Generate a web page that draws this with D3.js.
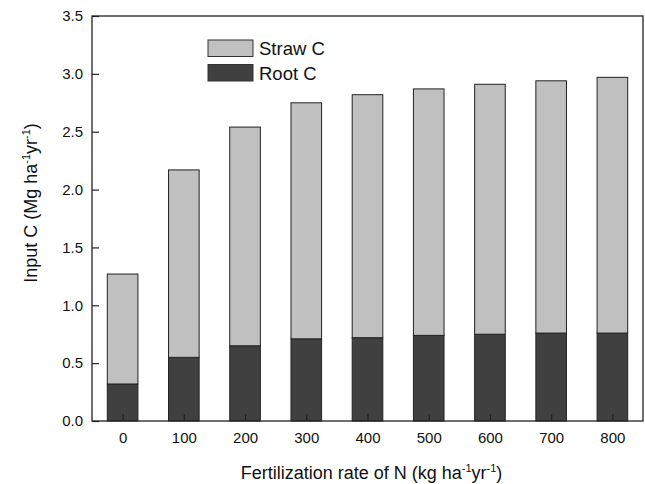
<!DOCTYPE html>
<html>
<head>
<meta charset="utf-8">
<script src="https://cdn.jsdelivr.net/npm/d3@7"></script>
<style>
  body { margin: 0; background: #fff; }
  text { font-family: "Liberation Sans", Arial, sans-serif; fill: #111; }
</style>
</head>
<body>
<svg width="645" height="484"></svg>
<script>
// N rates (kg/ha/yr) and carbon inputs (Mg/ha/yr)
const rates = [0, 100, 200, 300, 400, 500, 600, 700, 800];
const rootC = [0.32, 0.55, 0.65, 0.71, 0.72, 0.74, 0.75, 0.76, 0.76];
const strawC = [0.95, 1.62, 1.89, 2.04, 2.10, 2.13, 2.16, 2.18, 2.21];
const yTicks = [0, 0.5, 1.0, 1.5, 2.0, 2.5, 3.0, 3.5];

const svg = d3.select('svg');
const margin = { left: 92, right: 2, top: 16, bottom: 63 };
const width = 645 - margin.left - margin.right;
const height = 484 - margin.top - margin.bottom;

const g = svg.append('g').attr('transform', `translate(${margin.left},${margin.top})`);

const xScale = d3.scaleLinear().domain([-50, 850]).range([0, width]);
const yScale = d3.scaleLinear().domain([0, 3.5]).range([height, 0]);
const barW = xScale(50) - xScale(0);

const rows = rates.map((r, i) => ({ rate: r, root: rootC[i], straw: strawC[i] }));
const stacked = d3.stack().keys(['root', 'straw'])(rows);
const fills = { root: '#404040', straw: '#c0c0c0' };

g.selectAll('g.layer')
  .data(stacked)
  .join('g')
  .attr('class', 'layer')
  .attr('fill', (d) => fills[d.key])
  .selectAll('rect')
  .data((d) => d)
  .join('rect')
  .attr('x', (d) => xScale(d.data.rate) - barW / 2)
  .attr('width', barW)
  .attr('y', (d) => yScale(d[1]))
  .attr('height', (d) => yScale(d[0]) - yScale(d[1]))
  .attr('stroke', '#222')
  .attr('stroke-width', 1);

// axes, ticks pointing inward
const xAxis = g.append('g')
  .attr('transform', `translate(0,${height})`)
  .call(d3.axisBottom(xScale).tickValues(rates).tickSize(-7).tickPadding(11).tickFormat(d3.format('d')));
const yAxis = g.append('g')
  .call(d3.axisLeft(yScale).tickValues(yTicks).tickSize(-7).tickPadding(9).tickFormat(d3.format('.1f')));

[xAxis, yAxis].forEach((a) => {
  a.select('.domain').remove();
  a.selectAll('line').attr('stroke', '#222').attr('stroke-width', 1.2);
  a.selectAll('text').attr('font-size', 15).attr('fill', '#111');
});

// frame
g.append('rect')
  .attr('width', width)
  .attr('height', height)
  .attr('fill', 'none')
  .attr('stroke', '#222')
  .attr('stroke-width', 1.3);

// legend
const legend = g.append('g').attr('transform', 'translate(116,24)');
const legendItems = [
  { label: 'Straw C', key: 'straw' },
  { label: 'Root C', key: 'root' }
];
legendItems.forEach((d, i) => {
  legend.append('rect')
    .attr('x', 0)
    .attr('y', i * 24.5)
    .attr('width', 45)
    .attr('height', 16.5)
    .attr('fill', fills[d.key])
    .attr('stroke', '#333')
    .attr('stroke-width', 1);
  legend.append('text')
    .attr('x', 51)
    .attr('y', i * 24.5 + 15)
    .attr('font-size', 18.5)
    .text(d.label);
});

// axis titles with superscripts
function unitLabel(sel, pre) {
  sel.append('tspan').text(pre + ' ha');
  sel.append('tspan').attr('font-size', 11).attr('dy', -7).text('-1');
  sel.append('tspan').attr('dy', 7).text('yr');
  sel.append('tspan').attr('font-size', 11).attr('dy', -7).text('-1');
  sel.append('tspan').attr('dy', 7).text(')');
}

const xTitle = svg.append('text')
  .attr('x', margin.left + width / 2 + 4)
  .attr('y', 479)
  .attr('text-anchor', 'middle')
  .attr('font-size', 18);
unitLabel(xTitle, 'Fertilization rate of N (kg');

const yTitle = svg.append('text')
  .attr('transform', 'translate(37,203) rotate(-90)')
  .attr('text-anchor', 'middle')
  .attr('font-size', 18);
unitLabel(yTitle, 'Input C (Mg');
</script>
</body>
</html>
